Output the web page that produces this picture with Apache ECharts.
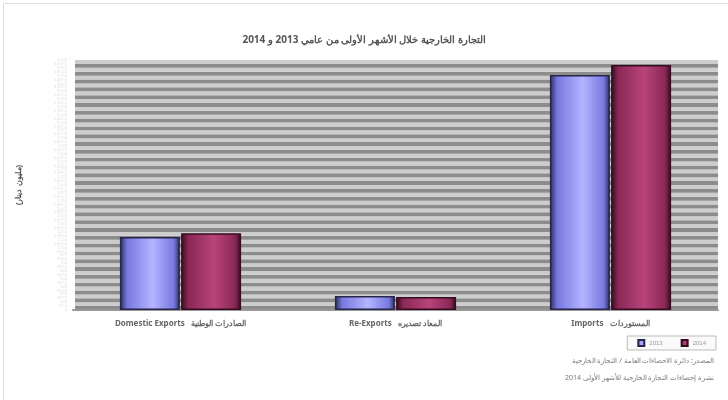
<!DOCTYPE html>
<html>
<head>
<meta charset="utf-8">
<script src="https://cdn.jsdelivr.net/npm/echarts@6/dist/echarts.min.js"></script>
<style>html,body{margin:0;padding:0;background:#fff}#c{width:728px;height:400px}</style>
</head>
<body>
<div id="c"></div>
<script>
const categories = ['Domestic Exports   الصادرات الوطنية', 'Re-Exports   المعاد تصديره', 'Imports   المستوردات'];
const values2013 = [1170, 225, 3760];
const values2014 = [1230, 210, 3920];
const seriesNames = ['2013', '2014'];
const titleText = 'التجارة الخارجية خلال الأشهر الأولى من عامي 2013 و 2014';
const yAxisName = '(مليون دينار)';
const sourceLines = ['المصدر: دائرة الاحصاءات العامة / التجارة الخارجية', 'نشرة إحصاءات التجارة الخارجية للأشهر الأولى 2014'];

const chart = echarts.init(document.getElementById('c'));
function grad(edge, mid, light) {
  return new echarts.graphic.LinearGradient(0, 0, 1, 0, [
    {offset: 0, color: edge}, {offset: 0.12, color: mid}, {offset: 0.55, color: light},
    {offset: 0.9, color: mid}, {offset: 1, color: edge}
  ]);
}
chart.setOption({
  backgroundColor: '#fff',
  animation: false,
  title: {text: titleText, left: 'center', top: 30, textStyle: {fontSize: 10, fontWeight: 'bold', color: '#555', fontFamily: 'Noto Sans'}},
  grid: {left: 73, right: 10, top: 60, bottom: 90},
  legend: {
    data: seriesNames, right: 12, top: 336, itemWidth: 6, itemHeight: 6, itemGap: 18,
    borderColor: '#bbb', borderWidth: 1, padding: [3, 10], backgroundColor: '#fafafa',
    textStyle: {fontSize: 6, color: '#999'}, icon: 'rect'
  },
  xAxis: {
    type: 'category', data: categories,
    axisLine: {lineStyle: {color: '#999', width: 2}}, axisTick: {show: false},
    axisLabel: {fontSize: 8, fontWeight: 'bold', color: '#666', margin: 10, fontFamily: 'Noto Sans'}
  },
  yAxis: {
    type: 'value', min: 0, max: 4000, interval: 62.5,
    name: yAxisName, nameLocation: 'middle', nameGap: 50, nameRotate: 90,
    nameTextStyle: {fontSize: 8, color: '#555', fontWeight: 'bold'},
    axisLine: {show: true, lineStyle: {color: '#fff', width: 3}}, axisTick: {show: false},
    axisLabel: {fontSize: 4, color: '#dcdcdc', margin: 6},
    splitLine: {show: false},
    splitArea: {show: true, areaStyle: {color: ['#8c8c8c', '#cdcdcd']}}
  },
  series: [
    {name: seriesNames[0], type: 'bar', data: values2013, barWidth: 60, barGap: '2%',
     itemStyle: {color: grad('#2a2a58', '#7878e0', '#b4b4ff'), borderColor: '#26264a', borderWidth: 1.5}},
    {name: seriesNames[1], type: 'bar', data: values2014, barWidth: 60,
     itemStyle: {color: grad('#360c20', '#8a2856', '#b8447a'), borderColor: '#360c20', borderWidth: 1.5}}
  ],
  graphic: [
    {type: 'text', right: 14, top: 357, style: {text: sourceLines[0], fontSize: 7, fill: '#777', fontFamily: 'Noto Sans'}},
    {type: 'text', right: 14, top: 374, style: {text: sourceLines[1], fontSize: 7, fill: '#777', fontFamily: 'Noto Sans'}},
    {type: 'rect', left: 1, top: 1, shape: {width: 725, height: 397}, style: {fill: 'none', stroke: '#ddd', lineWidth: 1}}
  ]
});
</script>
</body>
</html>
